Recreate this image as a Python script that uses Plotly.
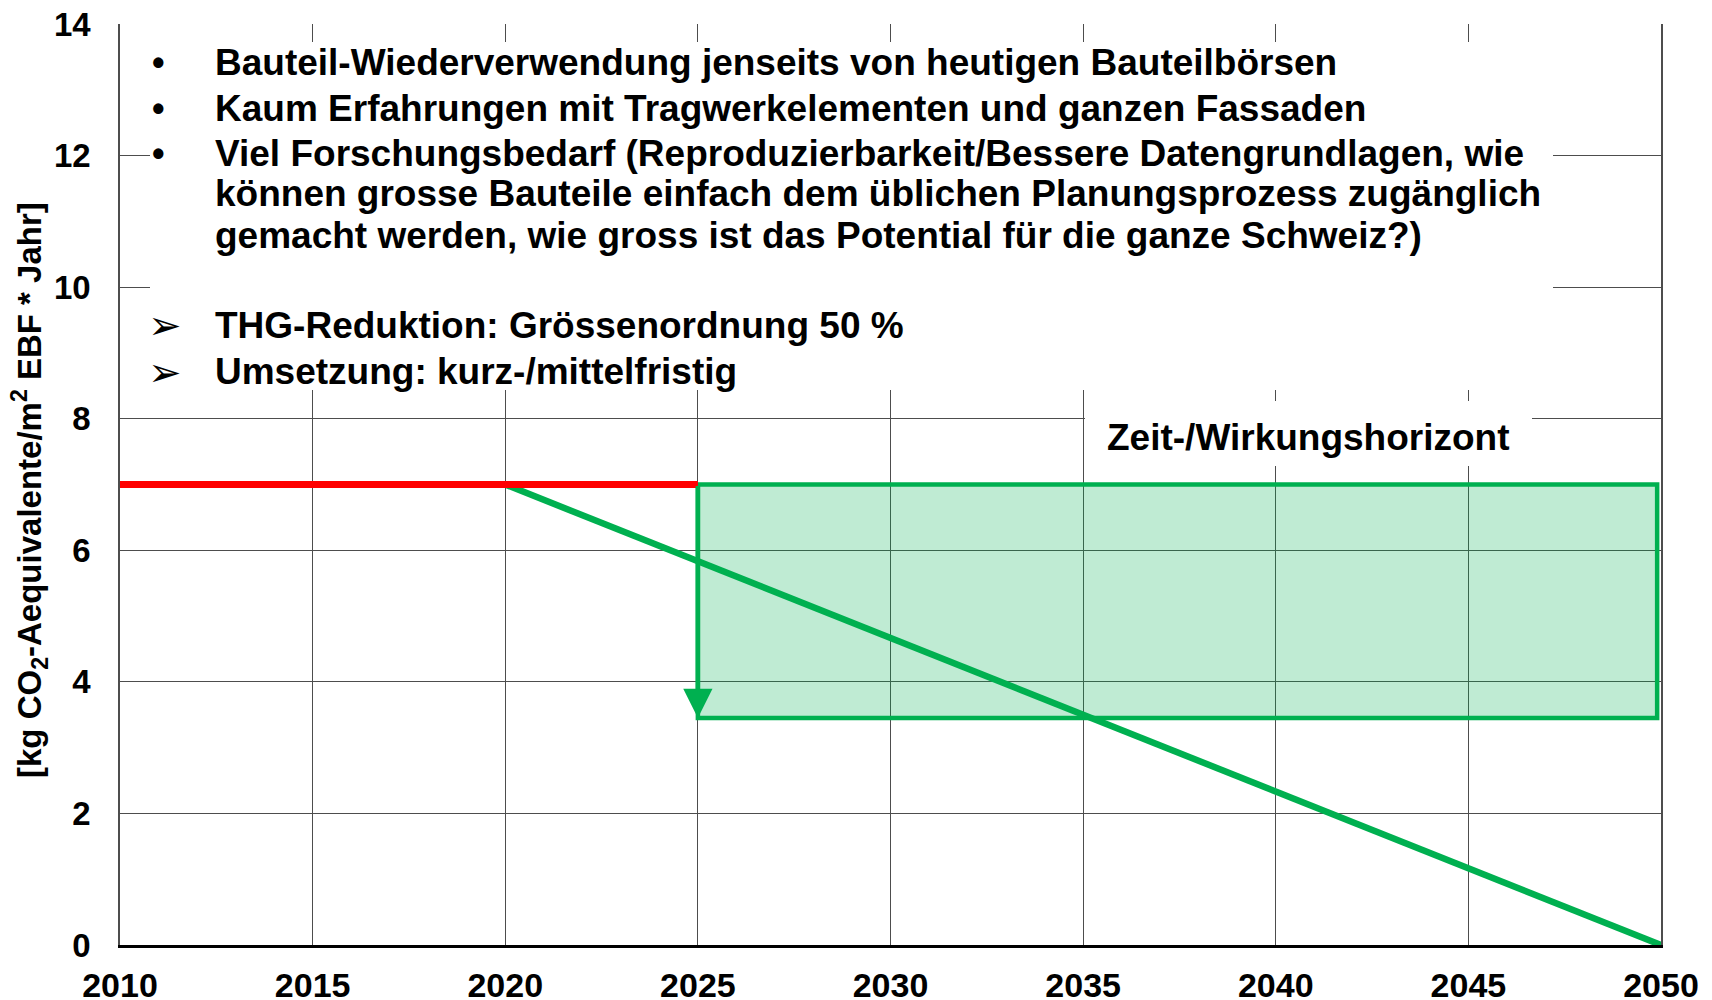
import plotly.graph_objects as go

# ---------------- data ----------------
ref_years = [2010, 2025]
ref_values = [7, 7]

path_years = [2020, 2050]
path_values = [7, 0]

band_years = [2025, 2049.9]
band_top = 7
band_bottom = 3.45

x_ticks = [2010, 2015, 2020, 2025, 2030, 2035, 2040, 2045, 2050]
y_ticks = [0, 2, 4, 6, 8, 10, 12, 14]

bullet_lines = [
    "Bauteil-Wiederverwendung jenseits von heutigen Bauteilbörsen",
    "Kaum Erfahrungen mit Tragwerkelementen und ganzen Fassaden",
    "Viel Forschungsbedarf (Reproduzierbarkeit/Bessere Datengrundlagen, wie",
    "können grosse Bauteile einfach dem üblichen Planungsprozess zugänglich",
    "gemacht werden, wie gross ist das Potential für die ganze Schweiz?)",
]
bullet_marks = ["•", "•", "•", "", ""]
arrow_lines = [
    "THG-Reduktion: Grössenordnung 50 %",
    "Umsetzung: kurz-/mittelfristig",
]
horizon_label = "Zeit-/Wirkungshorizont"
y_title = "[kg CO<sub>2</sub>-Aequivalente/m<sup>2</sup> EBF * Jahr]"

# ---------------- layout constants ----------------
W, H = 1712, 1000
OFF = 8  # page body margin of the html page
# desired plot area in page pixels
P_L, P_R, P_T, P_B = 120, 1661, 24, 945
ML = P_L - OFF
MT = P_T - OFF
PW = P_R - P_L
PH = P_B - P_T
MR = W - ML - PW
MB = H - MT - PH

def px_x(px):
    return (px - P_L) / PW

def px_y(py):
    return (P_B - py) / PH

FONT = "Liberation Sans, Arial, sans-serif"
GREEN = "#00B050"
RED = "#FF0000"
GRID = "#4d4d4d"

fig = go.Figure()

# band (rectangle)
fig.add_trace(go.Scatter(
    x=[band_years[0], band_years[1], band_years[1], band_years[0], band_years[0]],
    y=[band_top, band_top, band_bottom, band_bottom, band_top],
    mode="lines", fill="toself", fillcolor="rgba(0,176,80,0.25)",
    line=dict(color=GREEN, width=4.5), hoverinfo="skip", showlegend=False,
))

# diagonal reduction path
fig.add_trace(go.Scatter(
    x=path_years, y=path_values, mode="lines",
    line=dict(color=GREEN, width=6.5), showlegend=False,
))

# red reference line
fig.add_trace(go.Scatter(
    x=ref_years, y=ref_values, mode="lines",
    line=dict(color=RED, width=7), showlegend=False,
))

# white boxes hiding the grid behind the texts
def white_box(x0, y0, x1, y1):
    fig.add_annotation(xref="paper", yref="paper", x=px_x(x0), y=px_y(y0),
                       xanchor="left", yanchor="top", text=" ", showarrow=False,
                       width=x1 - x0, height=y1 - y0, bgcolor="white",
                       borderpad=0, borderwidth=0)

white_box(150, 42, 1553, 390)
white_box(1085, 401, 1532, 466)

# arrow down along the left edge of the band
fig.add_annotation(
    x=band_years[0], y=band_bottom, ax=band_years[0], ay=band_top,
    xref="x", yref="y", axref="x", ayref="y",
    text="", showarrow=True, arrowhead=2, arrowsize=1.3, arrowwidth=4.5,
    arrowcolor=GREEN, standoff=0,
)

TXT = 37
# text block
line_y = [62, 108, 154, 194, 235]
for txt, mark, py in zip(bullet_lines, bullet_marks, line_y):
    fig.add_annotation(xref="paper", yref="paper", x=px_x(213), y=px_y(py),
                       text=txt, showarrow=False, xanchor="left", yanchor="middle",
                       font=dict(family=FONT, size=TXT, color="black", weight="bold"))
    if mark:
        fig.add_annotation(xref="paper", yref="paper", x=px_x(158), y=px_y(py),
                           text=mark, showarrow=False, xanchor="center", yanchor="middle",
                           font=dict(family=FONT, size=36, color="black", weight="bold"))

arrow_y = [325, 372]
for txt, py in zip(arrow_lines, arrow_y):
    fig.add_annotation(xref="paper", yref="paper", x=px_x(213), y=px_y(py),
                       text=txt, showarrow=False, xanchor="left", yanchor="middle",
                       font=dict(family=FONT, size=TXT, color="black", weight="bold"))
    fig.add_annotation(xref="paper", yref="paper", x=px_x(165), y=px_y(py),
                       text="➢", showarrow=False, xanchor="center", yanchor="middle",
                       font=dict(family="DejaVu Sans", size=40, color="black"))

fig.add_annotation(xref="paper", yref="paper", x=px_x(1105), y=px_y(437),
                   text=horizon_label, showarrow=False, xanchor="left", yanchor="middle",
                   font=dict(family=FONT, size=TXT, color="black", weight="bold"))

# y title
fig.add_annotation(xref="paper", yref="paper", x=px_x(29), y=px_y(490),
                   text=y_title, showarrow=False, textangle=-90,
                   xanchor="center", yanchor="middle",
                   font=dict(family=FONT, size=33, color="black", weight="bold"))

fig.update_layout(
    width=W, height=H,
    margin=dict(l=ML, r=MR, t=MT, b=MB, autoexpand=False),
    paper_bgcolor="white", plot_bgcolor="white",
    font=dict(family=FONT, color="black"),
    showlegend=False,
)
fig.update_xaxes(
    range=[2010, 2050], tickvals=x_ticks, ticktext=[str(v) for v in x_ticks],
    showgrid=True, gridcolor=GRID, gridwidth=1, zeroline=False,
    showline=True, linecolor="black", linewidth=2.5, mirror=False,
    ticks="", ticklabelstandoff=8, automargin=False, ticklabeloverflow="allow",
    tickfont=dict(family=FONT, size=34, color="black", weight="bold"),
)
fig.update_yaxes(
    range=[0, 14], tickvals=y_ticks, ticktext=[str(v) for v in y_ticks],
    showgrid=True, gridcolor=GRID, gridwidth=1, zeroline=False,
    showline=True, linecolor=GRID, linewidth=1.5, mirror=True,
    ticks="", ticklabelstandoff=21, automargin=False, ticklabeloverflow="allow",
    tickfont=dict(family=FONT, size=33, color="black", weight="bold"),
)

fig.write_html("out.html")
